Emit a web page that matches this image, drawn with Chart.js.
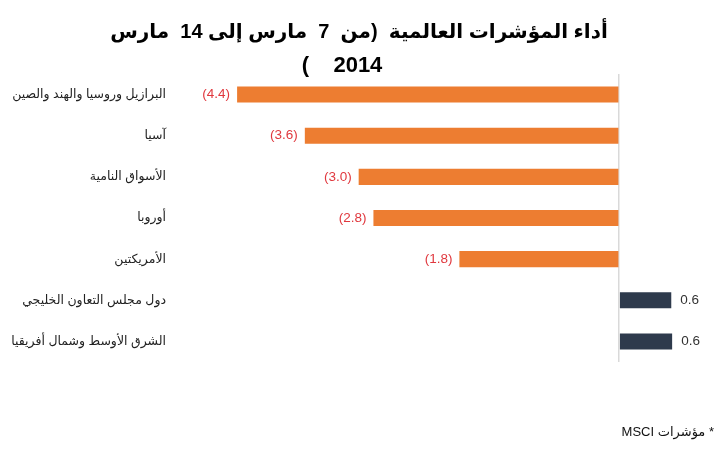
<!DOCTYPE html>
<html>
<head>
<meta charset="utf-8">
<script src="https://cdn.jsdelivr.net/npm/chart.js@4.4.1/dist/chart.umd.min.js"></script>
<style>
html,body{margin:0;padding:0;background:#fff;}
#wrap{width:722px;height:450px;position:relative;}
</style>
</head>
<body>
<div id="wrap"><canvas id="c" width="722" height="450"></canvas></div>
<script>
const categories = [
  "البرازيل وروسيا والهند والصين",
  "آسيا",
  "الأسواق النامية",
  "أوروبا",
  "الأمريكتين",
  "دول مجلس التعاون الخليجي",
  "الشرق الأوسط وشمال أفريقيا"
];
const values = [-4.4, -3.62, -3.0, -2.83, -1.84, 0.6, 0.61];
const titleLines = ["أداء المؤشرات العالمية  (من  7  مارس إلى 14  مارس", "2014    )"];
const footnote = "* مؤشرات MSCI";

const NEG_COLOR = "#ED7D31";
const POS_COLOR = "#2E3A4C";
const FONT = '"Liberation Sans", "DejaVu Sans", sans-serif';

function fmt(v){
  return v < 0 ? "(" + Math.abs(v).toFixed(1) + ")" : v.toFixed(1);
}

const overlay = {
  id: "overlay",
  afterDatasetsDraw(chart){
    const ctx = chart.ctx;
    const meta = chart.getDatasetMeta(0);
    ctx.save();
    ctx.font = "13.5px " + FONT;
    ctx.textBaseline = "middle";
    meta.data.forEach((bar, i) => {
      const v = values[i];
      if (v < 0){
        ctx.fillStyle = "#E0383E";
        ctx.textAlign = "right";
        ctx.fillText(fmt(v), bar.x - 7, bar.y);
      } else {
        ctx.fillStyle = "#333333";
        ctx.textAlign = "left";
        ctx.fillText(fmt(v), bar.x + 9, bar.y);
      }
    });
    ctx.restore();
  },
  afterDraw(chart){
    const ctx = chart.ctx;
    ctx.save();
    ctx.direction = "rtl";
    ctx.fillStyle = "#000";
    ctx.font = "bold 20px " + FONT;
    ctx.textAlign = "center";
    ctx.textBaseline = "alphabetic";
    ctx.fillText(titleLines[0], 359, 38);
    ctx.font = "bold 22px " + FONT;
    ctx.fillText(titleLines[1], 342, 72);
    ctx.font = "13px " + FONT;
    ctx.textAlign = "right";
    ctx.textBaseline = "middle";
    ctx.fillStyle = "#111";
    ctx.fillText(footnote, 714, 432);
    ctx.restore();
  }
};

new Chart(document.getElementById("c"), {
  type: "bar",
  data: {
    labels: categories,
    datasets: [{
      data: values,
      backgroundColor: values.map(v => v < 0 ? NEG_COLOR : POS_COLOR),
      barPercentage: 0.39,
      categoryPercentage: 1.0
    }]
  },
  options: {
    indexAxis: "y",
    responsive: false,
    animation: false,
    events: [],
    layout: { padding: { top: 74, bottom: 88, left: 0, right: 16 } },
    plugins: { legend: { display: false }, tooltip: { enabled: false }, title: { display: false } },
    scales: {
      x: {
        min: -5, max: 1,
        ticks: { display: false, stepSize: 1 },
        border: { display: false },
        grid: {
          drawTicks: false,
          color: c => (c.tick && c.tick.value === 0) ? "#D9D9D9" : "rgba(0,0,0,0)",
          lineWidth: 1.5
        },
        afterFit(s){ s.height = 0; }
      },
      y: {
        ticks: { color: "#222", font: { size: 12.5, family: FONT }, padding: 19 },
        grid: { display: false, drawTicks: false },
        border: { display: false },
        afterFit(s){ s.width = 185; }
      }
    }
  },
  plugins: [overlay]
});
</script>
</body>
</html>
